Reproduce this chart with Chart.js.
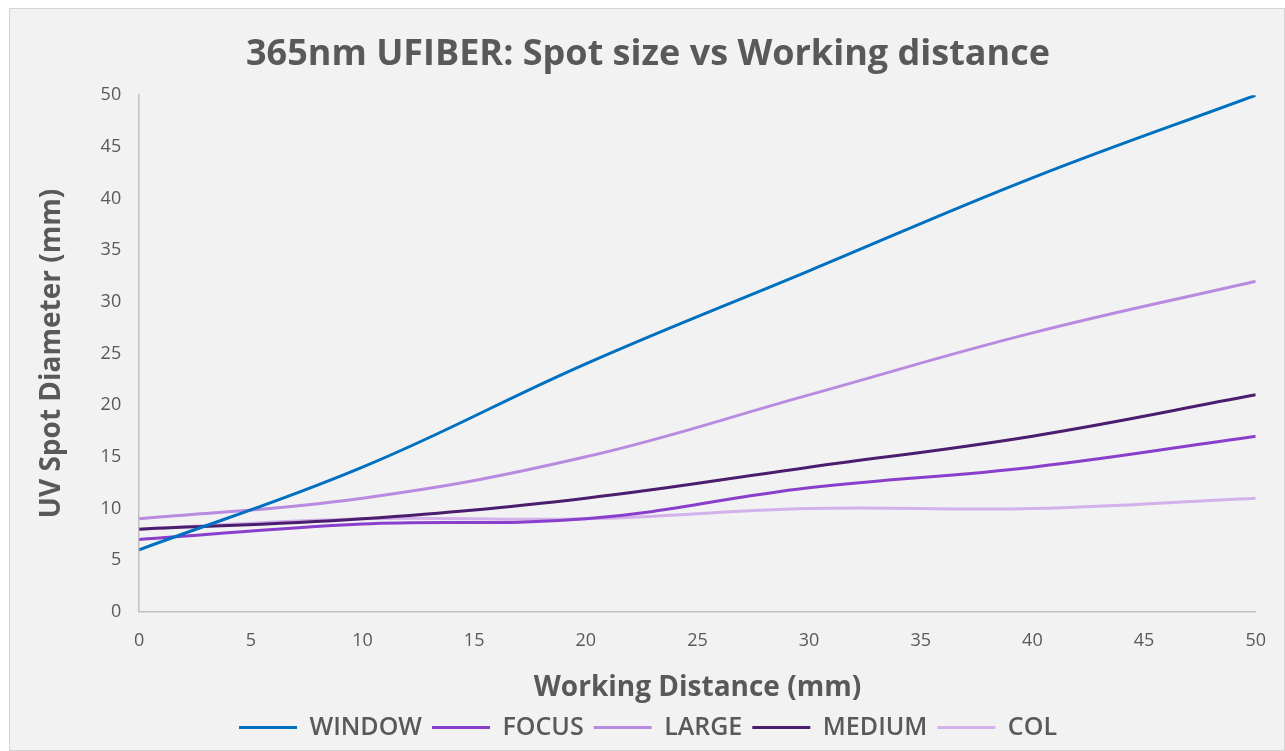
<!DOCTYPE html>
<html lang="en">
<head>
    <meta charset="UTF-8">
    <title>365nm UFIBER: Spot size vs Working distance</title>
    <script src="https://cdn.jsdelivr.net/npm/chart.js"></script>
    <style>
        body { margin: 0; background: #ffffff; }
        #wrap {
            position: absolute; left: 9px; top: 8px;
            width: 1276px; height: 743px;
            background: #f2f2f2; border: 1px solid #d4d4d4; box-sizing: border-box;
        }
    </style>
</head>
<body>
    <div id="wrap"><canvas id="chart"></canvas></div>
    <script>
        // working distance (mm)
        const distances = [0, 10, 20, 30, 40, 50];
        const windowSpot = [6, 14, 24, 33, 42, 50];
        const focusSpot = [7, 8.5, 9, 12, 14, 17];
        const largeSpot = [9, 11, 15, 21, 27, 32];
        const mediumSpot = [8, 9, 11, 14, 17, 21];
        const colSpot = [8, 9, 9, 10, 10, 11];
        const xTicks = [0, 5, 10, 15, 20, 25, 30, 35, 40, 45, 50];

        const series = [
            { label: "WINDOW", values: windowSpot, color: "#0070c0" },
            { label: "FOCUS", values: focusSpot, color: "#8a3fcc" },
            { label: "LARGE", values: largeSpot, color: "#b98be0" },
            { label: "MEDIUM", values: mediumSpot, color: "#4a1d6e" },
            { label: "COL", values: colSpot, color: "#d3b1ea" }
        ];

        const grey = "#595959";

        new Chart(document.getElementById("chart"), {
            type: "line",
            data: {
                datasets: series.map(s => ({
                    label: s.label,
                    data: distances.map((d, i) => ({ x: d, y: s.values[i] })),
                    borderColor: s.color,
                    backgroundColor: s.color,
                    borderWidth: 3,
                    pointRadius: 0,
                    tension: 0.4
                }))
            },
            options: {
                responsive: true,
                maintainAspectRatio: false,
                animation: false,
                layout: { padding: { left: 21, right: 19, top: 8, bottom: 0 } },
                plugins: {
                    title: {
                        display: true,
                        text: "365nm UFIBER: Spot size vs Working distance",
                        color: grey,
                        font: { family: "Open Sans", size: 36, weight: "bold" },
                        padding: { top: 16, bottom: 19 }
                    },
                    legend: {
                        position: "bottom",
                        labels: {
                            color: grey,
                            font: { family: "Open Sans", size: 25, weight: "600" },
                            boxWidth: 58,
                            boxHeight: 3,
                            padding: 10,
                            generateLabels(chart) {
                                return Chart.defaults.plugins.legend.labels.generateLabels(chart)
                                    .map(l => Object.assign(l, { lineWidth: 0, fillStyle: l.strokeStyle }));
                            }
                        }
                    },
                    tooltip: { enabled: false }
                },
                scales: {
                    x: {
                        type: "linear",
                        min: 0, max: 50,
                        afterBuildTicks(axis) { axis.ticks = xTicks.map(v => ({ value: v })); },
                        grid: { display: false, drawTicks: false },
                        border: { color: "#bfbfbf", width: 1.5 },
                        ticks: { color: grey, font: { family: "Open Sans", size: 18 }, padding: 18 },
                        title: {
                            display: true,
                            text: "Working Distance (mm)",
                            color: grey,
                            font: { family: "Open Sans", size: 28, weight: "bold" },
                            padding: { top: 2, bottom: 0 }
                        }
                    },
                    y: {
                        min: 0, max: 50,
                        ticks: { stepSize: 5, color: grey, font: { family: "Open Sans", size: 18 }, padding: 18 },
                        grid: { display: false, drawTicks: false },
                        border: { color: "#bfbfbf", width: 1.5 },
                        title: {
                            display: true,
                            text: "UV Spot Diameter (mm)",
                            color: grey,
                            font: { family: "Open Sans", size: 28, weight: "bold" },
                            padding: { bottom: 14 }
                        }
                    }
                }
            }
        });
    </script>
</body>
</html>
